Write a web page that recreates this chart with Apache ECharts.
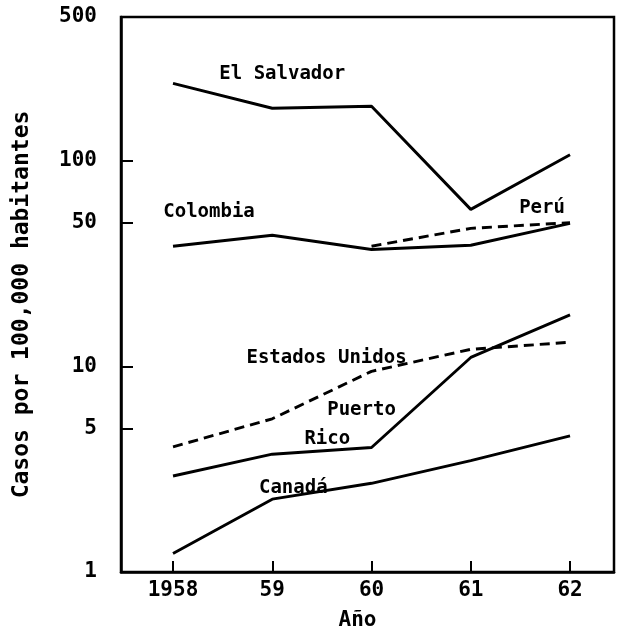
<!DOCTYPE html>
<html>
<head>
  <meta charset="utf-8">
  <script src="https://cdn.jsdelivr.net/npm/echarts@6/dist/echarts.min.js"></script>
  <style>
    html, body { margin: 0; padding: 0; background: #fff; }
    #chart { width: 619px; height: 636px; }
  </style>
</head>
<body>
<div id="chart"></div>
<script>
  // datos (casos por 100,000 habitantes)
  var years = [1958, 1959, 1960, 1961, 1962]
  var yTicks = [1, 5, 10, 50, 100, 500]
  var elSalvador = [238, 180, 184, 58, 107]
  var colombia = [38.4, 43.4, 37, 38.8, 49.6]
  var peruYears = [1960, 1961, 1962]
  var peru = [38.4, 46.9, 50]
  var estadosUnidos = [4.06, 5.56, 9.46, 12.1, 13.1]
  var puertoRico = [2.93, 3.74, 4.03, 11.05, 17.8]
  var canada = [1.23, 2.26, 2.70, 3.48, 4.59]

  var FONT = 'DejaVu Sans Mono'

  function pairs (xs, ys) {
    return xs.map(function (x, i) { return [x, ys[i]] })
  }

  // el simbolo mide 0, asi que position es el desplazamiento desde el punto
  function labelStyle (text, offset) {
    return {
      show: true,
      formatter: text,
      position: offset,
      align: 'center',
      verticalAlign: 'middle',
      color: '#000',
      fontFamily: FONT,
      fontWeight: 'bold',
      fontSize: 19
    }
  }

  // etiqueta de texto pegada a un punto de la serie
  function tag (data, idx, text, offset) {
    data[idx] = { value: data[idx], label: labelStyle(text, offset) }
    return data
  }

  function line (name, data, dashed) {
    return {
      name: name,
      type: 'line',
      data: data,
      symbol: 'circle',
      symbolSize: 0,
      showSymbol: true,
      silent: true,
      itemStyle: { color: '#000' },
      lineStyle: {
        color: '#000',
        width: 2.9,
        type: dashed ? [10, 6] : 'solid'
      }
    }
  }

  var elsData = tag(pairs(years, elSalvador), 1, 'El Salvador', [10, -34])
  var colData = tag(pairs(years, colombia), 0, 'Colombia', [36, -34])
  var peruData = tag(pairs(peruYears, peru), 2, 'Perú', [-28, -15])
  var usaData = tag(pairs(years, estadosUnidos), 2, 'Estados Unidos', [-45, -13])
  var prData = tag(pairs(years, puertoRico), 2, 'Puerto', [-10, -37])
  prData = tag(prData, 1, 'Rico', [55, -15])
  var canData = tag(pairs(years, canada), 1, 'Canadá', [21, -11])

  var option = {
    animation: false,
    backgroundColor: '#fff',
    grid: {
      left: 121,
      right: 5,
      top: 17,
      bottom: 60,
      show: true,
      borderColor: '#000',
      borderWidth: 2.5,
      backgroundColor: 'transparent'
    },
    xAxis: {
      type: 'value',
      min: 1957.476,
      max: 1962.443,
      name: 'Año',
      nameLocation: 'middle',
      nameGap: 38,
      nameTextStyle: {
        color: '#000', fontFamily: FONT, fontWeight: 'bold', fontSize: 21,
        padding: [0, 20, 0, 0]
      },
      axisLine: { lineStyle: { color: '#000', width: 2.5 } },
      axisTick: {
        inside: true, length: 11, customValues: years,
        lineStyle: { color: '#000', width: 2 }
      },
      axisLabel: {
        customValues: years,
        margin: 8,
        color: '#000', fontFamily: FONT, fontWeight: 'bold', fontSize: 21,
        formatter: function (v) { return v === 1958 ? '1958' : String(v).slice(2) }
      },
      splitLine: { show: false }
    },
    yAxis: {
      type: 'log',
      logBase: 10,
      min: 1,
      max: 500,
      name: 'Casos por 100,000 habitantes',
      nameLocation: 'middle',
      nameGap: 87,
      nameTextStyle: {
        color: '#000', fontFamily: FONT, fontWeight: 'bold', fontSize: 23,
        padding: [0, 20, 0, 0]
      },
      axisLine: { show: true, lineStyle: { color: '#000', width: 2.5 } },
      axisTick: {
        show: true, inside: true, length: 12, customValues: yTicks,
        lineStyle: { color: '#000', width: 2 }
      },
      axisLabel: {
        customValues: yTicks,
        margin: 24,
        color: '#000', fontFamily: FONT, fontWeight: 'bold', fontSize: 21
      },
      splitLine: { show: false }
    },
    series: [
      line('El Salvador', elsData, false),
      line('Colombia', colData, false),
      line('Perú', peruData, true),
      line('Estados Unidos', usaData, true),
      line('Puerto Rico', prData, false),
      line('Canadá', canData, false)
    ]
  }

  var myChart = echarts.init(document.getElementById('chart'), null, { renderer: 'canvas' })
  myChart.setOption(option)
</script>
</body>
</html>
